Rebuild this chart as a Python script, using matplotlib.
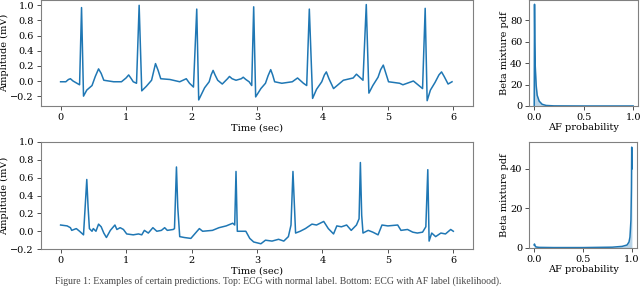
import matplotlib
matplotlib.use("Agg")
import matplotlib.pyplot as plt

# ---- Top ECG (normal rhythm) ----
t_top = [0.00, 0.08, 0.12, 0.15, 0.19, 0.23, 0.29, 0.32, 0.35, 0.40, 0.48, 0.53, 0.58, 0.62, 0.66,
         0.81, 0.93, 1.00, 1.04, 1.08, 1.11, 1.16, 1.20, 1.24, 1.31, 1.39, 1.42, 1.45, 1.49, 1.53,
         1.67, 1.82, 1.92, 1.97, 2.03, 2.08, 2.11, 2.20, 2.27, 2.30, 2.33, 2.36, 2.40, 2.47, 2.55,
         2.58, 2.62, 2.68, 2.76, 2.79, 2.83, 2.88, 2.92, 2.95, 2.98, 3.06, 3.13, 3.17, 3.21, 3.24,
         3.27, 3.38, 3.54, 3.62, 3.71, 3.76, 3.80, 3.85, 3.91, 3.99, 4.03, 4.06, 4.10, 4.17, 4.32,
         4.47, 4.52, 4.62, 4.67, 4.71, 4.77, 4.85, 4.89, 4.93, 4.97, 5.01, 5.18, 5.23, 5.39, 5.53,
         5.57, 5.60, 5.65, 5.72, 5.78, 5.82, 5.86, 5.92, 5.98]
v_top = [-0.01, -0.01, 0.02, 0.03, 0.00, -0.02, -0.05, 0.97, -0.20, -0.12, -0.06, 0.06, 0.16, 0.10, 0.01,
         -0.01, -0.01, 0.04, 0.08, 0.03, -0.01, -0.03, 1.00, -0.13, -0.07, 0.01, 0.12, 0.23, 0.14, 0.03,
         0.02, -0.01, 0.03, -0.03, -0.08, 0.95, -0.25, -0.09, -0.01, 0.08, 0.14, 0.08, 0.01, -0.04, 0.03,
         0.06, 0.03, 0.01, 0.03, 0.05, 0.02, -0.01, -0.06, 0.98, -0.21, -0.10, -0.03, 0.07, 0.15, 0.08,
         -0.01, -0.03, -0.01, 0.04, -0.03, -0.06, 0.95, -0.23, -0.11, -0.01, 0.08, 0.12, 0.03, -0.10, 0.01,
         0.04, 0.09, 0.01, 1.01, -0.16, -0.06, 0.05, 0.15, 0.21, 0.10, -0.01, -0.03, -0.05, 0.00, -0.10,
         0.96, -0.26, -0.12, -0.02, 0.08, 0.12, 0.06, -0.04, -0.01]

# ---- Bottom ECG (atrial fibrillation) ----
t_bot = [0.00, 0.10, 0.15, 0.17, 0.24, 0.29, 0.35, 0.40, 0.42, 0.44, 0.48, 0.50, 0.54, 0.58,
         0.62, 0.66, 0.70, 0.76, 0.83, 0.86, 0.91, 0.96, 1.01, 1.11, 1.19, 1.24, 1.28, 1.34,
         1.41, 1.47, 1.54, 1.59, 1.63, 1.72, 1.74, 1.77, 1.79, 1.82, 1.89, 1.99, 2.12, 2.17,
         2.32, 2.42, 2.53, 2.63, 2.66, 2.68, 2.70, 2.83, 2.89, 2.95, 3.06, 3.13, 3.23, 3.33,
         3.41, 3.48, 3.52, 3.55, 3.59, 3.66, 3.74, 3.84, 3.91, 4.02, 4.09, 4.17, 4.22, 4.29,
         4.37, 4.44, 4.52, 4.56, 4.58, 4.60, 4.62, 4.70, 4.77, 4.85, 4.91, 5.00, 5.15, 5.20,
         5.30, 5.38, 5.45, 5.53, 5.58, 5.61, 5.63, 5.67, 5.73, 5.81, 5.88, 5.96, 6.00]
v_bot = [0.07, 0.06, 0.04, 0.01, 0.03, 0.00, -0.04, 0.58, 0.27, 0.03, 0.00, 0.03, 0.00, 0.08,
         0.05, -0.02, -0.07, 0.01, 0.07, 0.02, 0.04, 0.02, -0.03, -0.04, -0.03, -0.04, 0.01, -0.02,
         0.04, 0.00, 0.01, 0.04, 0.01, 0.02, 0.03, 0.72, 0.27, -0.06, -0.07, -0.08, 0.03, 0.00,
         0.01, 0.04, 0.06, 0.09, 0.07, 0.67, 0.00, 0.00, -0.08, -0.12, -0.14, -0.10, -0.11, -0.09,
         -0.11, -0.06, 0.07, 0.67, -0.02, 0.00, 0.03, 0.08, 0.07, 0.11, 0.03, -0.03, 0.06, 0.05,
         0.07, 0.01, 0.07, 0.14, 0.77, 0.18, -0.02, 0.01, -0.01, -0.04, 0.07, 0.06, 0.07, 0.01,
         0.02, -0.01, -0.02, -0.01, 0.05, 0.69, -0.11, -0.02, -0.06, -0.02, -0.03, 0.02, 0.00]

# ---- Beta mixture pdfs ----
p_top = [0.0, 0.003, 0.006, 0.01, 0.02, 0.03, 0.05, 0.08, 0.12, 0.2, 0.5, 0.8, 1.0]
pdf_top = [0, 95, 60, 38, 19, 10, 4.5, 1.6, 0.5, 0.1, 0.0, 0.0, 0.0]
p_bot = [0.0, 0.003, 0.01, 0.02, 0.05, 0.2, 0.5, 0.8, 0.9, 0.95, 0.97, 0.98, 0.99, 0.995, 0.998, 1.0]
pdf_bot = [1.5, 2.0, 1.0, 0.5, 0.3, 0.2, 0.2, 0.4, 0.8, 1.5, 3.0, 5.5, 14, 30, 51, 40]

ecg_yticks = [-0.2, 0.0, 0.2, 0.4, 0.6, 0.8, 1.0]
time_ticks = [0, 1, 2, 3, 4, 5, 6]
prob_ticks = [0.0, 0.5, 1.0]

plt.rcParams['font.family'] = ['DejaVu Serif']
plt.rcParams['font.size'] = 7
blue = '#1f77b4'
spine_col = '#808080'

fig = plt.figure(figsize=(6.4, 2.88), dpi=100)

def style(ax):
    for s in ax.spines.values():
        s.set_color(spine_col)
        s.set_linewidth(0.8)
    ax.tick_params(labelsize=7, length=3, width=0.6, pad=2, color='#333333')

ax1 = fig.add_axes([0.064, 0.632, 0.675, 0.368])
ax1.plot(t_top, v_top, color=blue, lw=1.1)
ax1.set_xticks(time_ticks)
ax1.set_yticks(ecg_yticks)
ax1.set_xlim(-0.3, 6.3)
ax1.set_ylim(-0.33, 1.07)
ax1.set_xlabel('Time (sec)', labelpad=1)
ax1.set_ylabel('Amplitude (mV)', labelpad=1)
style(ax1)

ax2 = fig.add_axes([0.064, 0.135, 0.675, 0.372])
ax2.plot(t_bot, v_bot, color=blue, lw=1.1)
ax2.set_xticks(time_ticks)
ax2.set_yticks(ecg_yticks)
ax2.set_xlim(-0.3, 6.3)
ax2.set_ylim(-0.2, 1.0)
ax2.set_xlabel('Time (sec)', labelpad=1)
ax2.set_ylabel('Amplitude (mV)', labelpad=1)
style(ax2)

ax3 = fig.add_axes([0.827, 0.632, 0.17, 0.368])
ax3.fill_between(p_top, pdf_top, color=blue, alpha=0.3, lw=0)
ax3.plot(p_top, pdf_top, color=blue, lw=1.1)
ax3.set_xlim(-0.05, 1.05)
ax3.set_ylim(0, 99)
ax3.set_xticks(prob_ticks)
ax3.set_yticks([0, 20, 40, 60, 80])
ax3.set_xlabel('AF probability', labelpad=1)
ax3.set_ylabel('Beta mixture pdf', labelpad=1)
style(ax3)

ax4 = fig.add_axes([0.827, 0.139, 0.168, 0.368])
ax4.fill_between(p_bot, pdf_bot, color=blue, alpha=0.3, lw=0)
ax4.plot(p_bot, pdf_bot, color=blue, lw=1.1)
ax4.set_xlim(-0.05, 1.05)
ax4.set_ylim(0, 53.6)
ax4.set_xticks(prob_ticks)
ax4.set_yticks([0, 20, 40])
ax4.set_xlabel('AF probability', labelpad=1)
ax4.set_ylabel('Beta mixture pdf', labelpad=1)
style(ax4)

fig.text(55 / 640, 2 / 288,
         'Figure 1: Examples of certain predictions. Top: ECG with normal label. Bottom: ECG with AF label (likelihood).',
         ha='left', va='bottom', fontsize=7, family=['Liberation Serif'], color='#444444')

fig.savefig('out.png', dpi=100)
